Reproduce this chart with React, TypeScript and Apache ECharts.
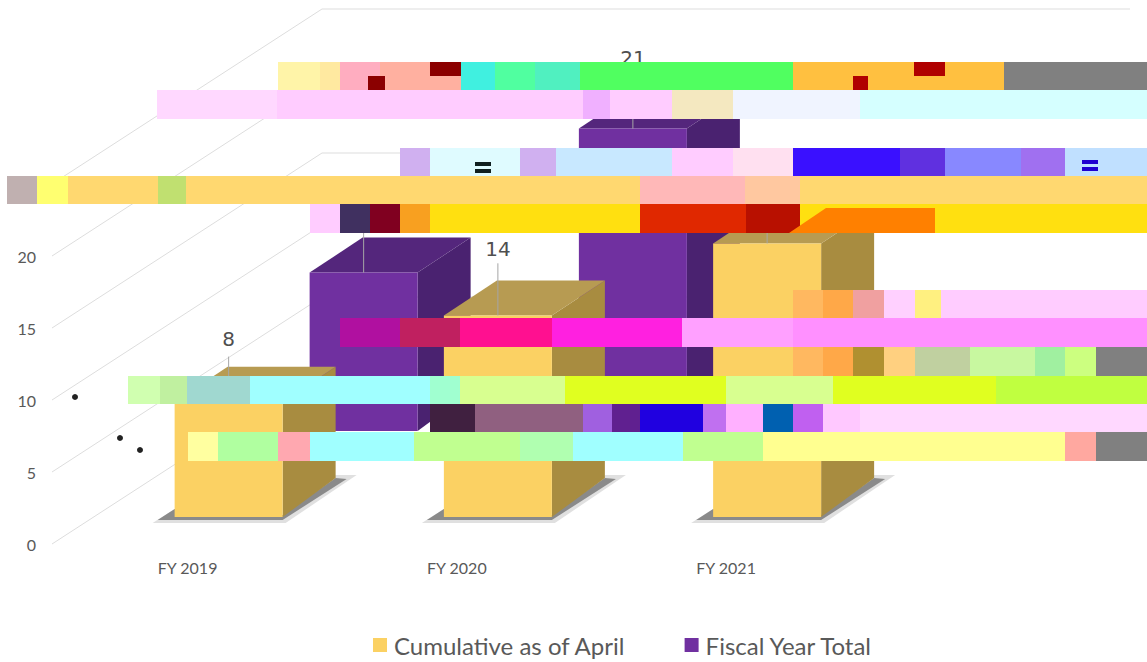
import React, { useEffect, useRef } from "react";
import * as echarts from "echarts";

const categories = ["FY 2019", "FY 2020", "FY 2021", ""];
const cumulativeAsOfApril = [8, 14, 19, null];
const fiscalYearTotal = [11, 21, null, null];
const wallTicks = [0, 5, 10, 15, 20, 25];

const GOLD = { front: "#FBD163", side: "#A88C40", top: "#B79B52" };
const PURPLE = { front: "#7030A0", side: "#4A2270", top: "#54267C" };
const LABEL = "#595959";

// Corruption bands in the reference picture: [top, bottom, [x0, x1, colour], ...]
const bands: any[] = [
  [62, 90, [278, 320, "#FFF4A8"], [320, 340, "#FFE9A0"], [340, 380, "#FFADC0"], [380, 430, "#FFB0A0"], [430, 461, "#FFB0A0"], [461, 495, "#40F0E0"], [495, 535, "#50FFA0"], [535, 580, "#50F0C0"], [580, 793, "#50FF60"], [793, 1004, "#FFC040"], [1004, 1147, "#808080"]],
  [90, 119, [157, 277, "#FFD8FF"], [277, 583, "#FFCCFF"], [583, 610, "#F0B0FF"], [610, 672, "#FFCCFF"], [672, 733, "#F4E8C0"], [733, 860, "#F0F4FF"], [860, 1147, "#D5FFFF"]],
  [148, 176, [400, 430, "#D0B0F0"], [430, 520, "#DFFBFF"], [520, 556, "#D0B0F0"], [556, 672, "#C8E8FF"], [672, 733, "#FFCCFF"], [733, 793, "#FFE0F0"], [793, 900, "#3A10FF"], [900, 945, "#6030E0"], [945, 1021, "#8888FF"], [1021, 1065, "#A070F0"], [1065, 1147, "#C0E0FF"]],
  [176, 204, [7, 37, "#C0B0B0"], [37, 68, "#FFFF70"], [68, 158, "#FFD870"], [158, 186, "#C0E070"], [186, 640, "#FFD870"], [640, 745, "#FFB8B8"], [745, 800, "#FFC8A0"], [800, 1147, "#FFD870"]],
  [204, 233, [310, 340, "#FFCCFF"], [340, 370, "#403060"], [370, 400, "#800020"], [400, 430, "#F8A020"], [430, 640, "#FFE010"], [640, 746, "#E02800"], [746, 800, "#B81000"], [800, 1147, "#FFE010"]],
  [290, 318, [793, 823, "#FFB860"], [823, 853, "#FFA848"], [853, 884, "#F0A0A0"], [884, 915, "#FFD0FF"], [915, 941, "#FFF080"], [941, 1147, "#FFCCFF"]],
  [318, 347, [340, 400, "#B010A0"], [400, 460, "#C02060"], [460, 552, "#FF1090"], [552, 682, "#FF20E0"], [682, 793, "#FFA0FF"], [793, 1147, "#FF90FF"]],
  [347, 376, [793, 823, "#FFB860"], [823, 853, "#FFA848"], [853, 884, "#B09030"], [884, 915, "#FFD080"], [915, 970, "#C0D0A0"], [970, 1035, "#C8F8A0"], [1035, 1065, "#A0F0A0"], [1065, 1096, "#CCFF80"], [1096, 1147, "#808080"]],
  [376, 404, [128, 160, "#D0FFB0"], [160, 187, "#C0F0A0"], [187, 250, "#A0D8D0"], [250, 430, "#A0FFFF"], [430, 460, "#A0FFD0"], [460, 565, "#D8FF90"], [565, 726, "#E0FF20"], [726, 833, "#D8FF90"], [833, 996, "#E0FF20"], [996, 1147, "#C0FF40"]],
  [404, 432, [430, 475, "#402040"], [475, 583, "#906080"], [583, 612, "#A060E0"], [612, 640, "#602090"], [640, 703, "#2000E0"], [703, 726, "#C070F0"], [726, 763, "#FFB0FF"], [763, 793, "#0060B0"], [793, 823, "#C060F0"], [823, 860, "#FFC8FF"], [860, 1147, "#FFD8FF"]],
  [432, 461, [188, 218, "#FFFFA0"], [218, 278, "#B0FFA0"], [278, 310, "#FFA8B0"], [310, 414, "#A0FFFF"], [414, 520, "#C0FF90"], [520, 573, "#B0FFB0"], [573, 683, "#A0FFFF"], [683, 763, "#C0FF90"], [763, 1065, "#FFFF90"], [1065, 1096, "#FFA8A0"], [1096, 1147, "#808080"]],
];

const bandGraphics = () => {
  const out: any[] = [];
  for (const [top, bottom, ...segs] of bands) {
    for (const [x0, x1, fill] of segs) {
      out.push({ type: "rect", z: 100, silent: true, shape: { x: x0, y: top, width: x1 - x0, height: bottom - top }, style: { fill } });
    }
  }
  const patch = (x: number, y: number, w: number, h: number, fill: string) =>
    out.push({ type: "rect", z: 101, silent: true, shape: { x, y, width: w, height: h }, style: { fill } });
  patch(430, 62, 31, 14, "#8B0000");
  patch(368, 76, 17, 14, "#8B0000");
  patch(914, 62, 31, 14, "#B00000");
  patch(853, 76, 15, 14, "#B00000");
  patch(1082, 160, 16, 4, "#2000D0");
  patch(1082, 167, 16, 4, "#2000D0");
  patch(475, 162, 16, 4, "#102020");
  patch(475, 169, 16, 4, "#102020");
  out.push({ type: "polygon", z: 101, silent: true, shape: { points: [[789, 233], [826, 208], [935, 208], [935, 233]] }, style: { fill: "#FF8000" } });
  for (const [x, y] of [[75, 397], [120, 438], [140, 450]]) {
    out.push({ type: "circle", z: 101, silent: true, shape: { cx: x, cy: y, r: 3 }, style: { fill: "#222" } });
  }
  return out;
};

const makeWalls = () => (params: any, api: any) => {
  const left = params.coordSys.x;
  const right = left + params.coordSys.width;
  const y = api.coord([0, api.value(1)])[1];
  return {
    type: "polyline",
    silent: true,
    shape: { points: [[left - 1, y], [322, y - 175], [right, y - 175]] },
    style: { stroke: "#DDDDDD", lineWidth: 1, fill: "none" },
  };
};

const makeBox = (c: any, shiftX: number, shiftY: number, shadow: boolean) => (_p: any, api: any) => {
  const v = api.value(1);
  if (v == null || Number.isNaN(v)) return null;
  const [cx, yTop] = api.coord([api.value(0), v]);
  const y0 = api.coord([api.value(0), 0])[1];
  const x0 = cx + shiftX - 54;
  const x1 = x0 + 108;
  const base = y0 + shiftY;
  const top = yTop + shiftY;
  const mid = x0 + 54;
  const dx = 53;
  const children: any[] = [];
  if (shadow) {
    children.push(
      {
        type: "polygon",
        shape: { points: [[x0 - 22, base + 6], [x1 + 3, base + 6], [x1 + 74, base - 42], [x1 + 53, base - 42], [x1, base - 2], [x0, base - 8]] },
        style: { fill: "rgba(130,130,130,0.25)" },
      },
      {
        type: "polygon",
        shape: { points: [[x0 - 17, base + 3], [x1, base + 3], [x1 + 64, base - 38], [x1 + 53, base - 39], [x1, base - 2], [x0, base - 8]] },
        style: { fill: "rgba(110,110,110,0.75)" },
      },
    );
  }
  children.push(
    { type: "polygon", shape: { points: [[x1, top], [x1 + dx, top - 35], [x1 + dx, base - 39], [x1, base]] }, style: { fill: c.side } },
    { type: "polygon", shape: { points: [[x0, top], [x0 + dx, top - 35], [x1 + dx, top - 35], [x1, top]] }, style: { fill: c.top } },
    { type: "rect", shape: { x: x0, y: top, width: 108, height: base - top }, style: { fill: c.front } },
    { type: "line", shape: { x1: mid, y1: top - (36 + 1.15 * v), x2: mid, y2: top }, style: { stroke: "#A6A6A6", lineWidth: 1 } },
    {
      type: "text",
      x: mid,
      y: top - (58 + 0.6 * v),
      style: { text: String(v), fill: "#4F4F4F", font: "20px 'DejaVu Sans'", align: "center", verticalAlign: "middle" },
    },
  );
  return { type: "group", children };
};

export default function App() {
  const ref = useRef<HTMLDivElement>(null);
  useEffect(() => {
    document.body.style.margin = "0";
    document.body.style.background = "#fff";
    const chart = echarts.init(ref.current!, undefined, { renderer: "svg" });
    chart.setOption({
      animation: false,
      backgroundColor: "#ffffff",
      grid: { left: 53, right: 17, top: 184, bottom: 118, containLabel: false },
      xAxis: {
        type: "category",
        data: categories,
        axisLine: { show: false },
        axisTick: { show: false },
        axisLabel: { color: LABEL, fontFamily: "Lato", fontSize: 16, margin: 15 },
      },
      yAxis: {
        type: "value",
        min: 0,
        max: 25,
        interval: 5,
        axisLine: { show: false },
        axisTick: { show: false },
        splitLine: { show: false },
        axisLabel: { color: LABEL, fontFamily: "Lato", fontSize: 16, margin: 17 },
      },
      legend: {
        left: 373,
        top: 633,
        padding: 0,
        icon: "rect",
        itemWidth: 14,
        itemHeight: 14,
        itemGap: 59,
        data: ["Cumulative as of April", "Fiscal Year Total"],
        textStyle: { color: LABEL, fontFamily: "Lato", fontSize: 24, padding: [0, 0, 0, 2] },
      },
      graphic: bandGraphics(),
      series: [
        {
          name: "walls",
          type: "custom",
          silent: true,
          renderItem: makeWalls(),
          data: wallTicks.map((t) => [0, t]),
          encode: { x: 0, y: 1 },
          z: 1,
        },
        {
          name: "Fiscal Year Total",
          type: "custom",
          renderItem: makeBox(PURPLE, 176, -113, false),
          itemStyle: { color: PURPLE.front },
          data: fiscalYearTotal.map((v, i) => [i, v]),
          encode: { x: 0, y: 1 },
          z: 2,
        },
        {
          name: "Cumulative as of April",
          type: "custom",
          renderItem: makeBox(GOLD, 41, -27, true),
          itemStyle: { color: GOLD.front },
          data: cumulativeAsOfApril.map((v, i) => [i, v]),
          encode: { x: 0, y: 1 },
          z: 3,
        },
      ],
    });
    return () => chart.dispose();
  }, []);
  return <div ref={ref} style={{ width: 1147, height: 662 }} />;
}
